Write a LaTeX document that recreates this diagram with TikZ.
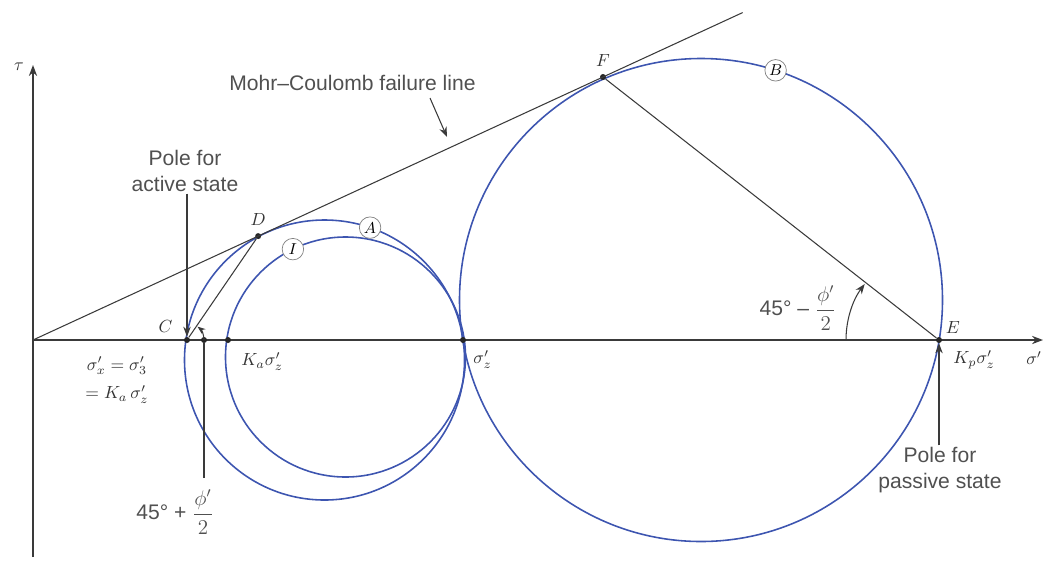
\documentclass[tikz,border=0pt]{standalone}
\usepackage{fontspec}
\setsansfont{Liberation Sans}
\usetikzlibrary{arrows.meta, positioning, calc}
\definecolor{mohrblue}{HTML}{3D55B0}
\definecolor{axisgray}{HTML}{3A3A3A}
\definecolor{txtgray}{HTML}{505050}

\begin{document}
\begin{tikzpicture}[
    x=0.2mm, y=0.2mm,
    axis/.style={draw=axisgray, line width=0.9pt},
    mohr/.style={draw=mohrblue, line width=0.9pt},
    thinline/.style={draw=axisgray, line width=0.6pt},
    dot/.style={circle, fill=black!85, inner sep=0pt, minimum size=1.2mm},
    tag/.style={circle, draw=gray, fill=white, inner sep=0pt, minimum size=4.3mm, font=\small},
    note/.style={align=center, font=\sffamily\fontsize{12}{14.5}\selectfont, text=txtgray, inner sep=1pt},
    lbl/.style={text=black!80, inner sep=1pt},
]
    \useasboundingbox (-33,-220) rectangle (1012,340);

    % Axes
    \coordinate (O) at (0,0);
    \coordinate (sEnd) at (1010,0);
    \coordinate (tTop) at (0,275);
    \coordinate (tBot) at (0,-217);
    \draw[axis, -{Stealth[length=2.2mm]}] (O) -- (sEnd);
    \draw[axis, -{Stealth[length=2.2mm]}] (tBot) -- (tTop);
    \node[lbl, anchor=east] (sigAx) at (1011,-18) {$\sigma'$};
    \node[lbl] (tauAx) at (-14,273) {$\tau$};

    % Mohr circles
    \coordinate (cA) at (291.5,-20);
    \coordinate (cI) at (312.5,-17);
    \coordinate (cB) at (668,40);
    \draw[mohr] (cA) circle[radius=140];
    \draw[mohr] (cI) circle[radius=120];
    \draw[mohr] (cB) circle[radius=241.5];

    % Points
    \node[dot] (F) at (570,263) {};
    \node[dot] (D) at ($(O)!0.395!(F)$) {};
    \node[dot] (C) at (154,0) {};
    \node[dot] (aC) at (171,0) {};
    \node[dot] (Ka) at (195,0) {};
    \node[dot] (Sz) at (430,0) {};
    \node[dot] (E) at (906,0) {};

    % Failure line and pole lines
    \coordinate (mcEnd) at ($(O)!1.245!(F)$);
    \draw[thinline] (O) -- (mcEnd);
    \draw[thinline] (C) -- (D);
    \draw[thinline] (E) -- (F);

    % Circle tags
    \node[tag] (tagA) at ($(cA)+(71:140)$) {$A$};
    \node[tag] (tagI) at ($(cI)+(116:120)$) {$I$};
    \node[tag] (tagB) at ($(cB)+(72:241.5)$) {$B$};

    % Point labels
    \node[lbl, above left=0.6mm and 2mm of C] {$C$};
    \node[lbl, above=1mm of D] {$D$};
    \node[lbl, above=1mm of F] {$F$};
    \node[lbl, above right=0.5mm and 0.5mm of E] {$E$};
    \node[lbl, below right=1.6mm and 1.8mm of Ka] {$K_a\sigma'_z$};
    \node[lbl, below right=1.2mm and 1.2mm of Sz] {$\sigma'_z$};
    \node[lbl, below right=1.2mm and 2mm of E] {$K_p\sigma'_z$};
    \node[lbl, align=center] (sx) at (84,-40) {$\sigma'_x = \sigma'_3$\\[1.5mm]$= K_a\,\sigma'_z$};

    % Failure line note
    \node[note] (mcl) at (319.5,257) {Mohr--Coulomb failure line};
    \coordinate (mclTail) at (397,242);
    \coordinate (mclTip) at (414,203);
    \draw[thinline, -{Stealth[length=2mm]}] (mclTail) -- (mclTip);

    % Poles
    \node[note] (poleA) at (152,169) {Pole for\\active state};
    \draw[thinline, -{Stealth[length=2mm]}] (poleA.south -| C) -- (C.north);
    \node[note] (poleP) at (907,-130) {Pole for\\passive state};
    \draw[thinline, -{Stealth[length=2mm]}] (poleP.north -| E) -- (E.south);

    % Angles
    \draw[thinline, -{Stealth[length=1.6mm]}] (aC.center) arc[start angle=0, end angle=52, radius=17];
    \node[note] (angP) at (142,-172) {45° + $\displaystyle\frac{\phi'}{2}$};
    \coordinate (angLead) at (171,-138);
    \draw[thinline] (angLead) -- (aC);
    \coordinate (eArc) at (813,0);
    \draw[thinline, -{Stealth[length=2mm]}] (eArc) arc[start angle=180, end angle=143, radius=93];
    \node[note] (angM) at (765,32) {45° -- $\displaystyle\frac{\phi'}{2}$};
\end{tikzpicture}
\end{document}
